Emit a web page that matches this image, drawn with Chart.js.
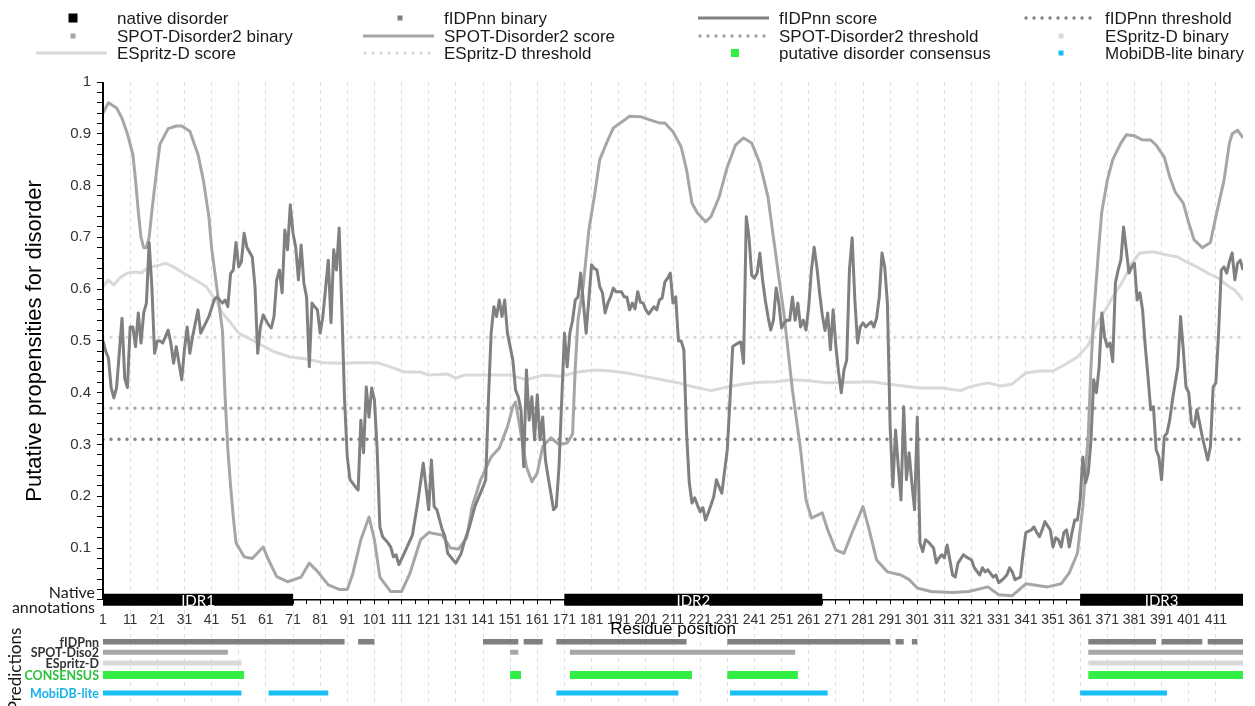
<!DOCTYPE html>
<html>
<head>
<meta charset="utf-8">
<title>Putative disorder profile</title>
<script src="https://cdn.jsdelivr.net/npm/chart.js@4.4.1/dist/chart.umd.min.js"></script>
<style>
  html, body { margin: 0; padding: 0; background: #fff; }
  #wrap { width: 1255px; height: 706px; }
</style>
</head>
<body>
<div id="wrap"><canvas id="disorderChart" width="1255" height="706"></canvas></div>
<script>
// residue / score pairs
const fidpnnScore = [
  [1,.50],[2,.48],[3,.467],[4,.41],[5,.39],[6,.41],[8,.544],[9,.428],[10,.41],[11,.527],[12,.527],[13,.489],[14,.554],[15,.496],[16,.554],[17,.573],[18,.69],[19,.605],[20,.476],[21,.50],[22,.50],[23,.496],[25,.521],[26,.496],[27,.457],[28,.489],[30,.425],[31,.483],[32,.527],[33,.476],[34,.508],[36,.56],[37,.515],[40,.547],[42,.58],[43,.585],[45,.573],[46,.579],[47,.566],[48,.63],[49,.637],[50,.69],[51,.643],[52,.653],[53,.708],[54,.681],[56,.662],[57,.605],[58,.476],[59,.527],[60,.55],[62,.531],[63,.525],[64,.547],[65,.618],[66,.637],[67,.593],[68,.714],[69,.676],[70,.763],[71,.708],[72,.681],[73,.618],[74,.685],[75,.612],[76,.585],[77,.45],[78,.573],[79,.566],[80,.56],[81,.515],[82,.547],[84,.656],[85,.535],[86,.676],[87,.637],[88,.718],[89,.56],[90,.386],[91,.276],[92,.232],[94,.218],[95,.212],[96,.347],[97,.284],[98,.411],[99,.353],[100,.409],
  [101,.386],[102,.29],[103,.141],[104,.122],[106,.11],[107,.102],[108,.083],[109,.087],[110,.068],[112,.09],[115,.125],[117,.19],[119,.264],[120,.218],[121,.174],[122,.27],[123,.18],[124,.174],[126,.135],[127,.122],[128,.09],[130,.077],[131,.071],[133,.09],[134,.11],[136,.141],[138,.18],[139,.193],[141,.218],[142,.232],[143,.386],[144,.515],[145,.566],[146,.547],[147,.579],[148,.547],[149,.579],[150,.515],[151,.489],[152,.463],[153,.405],[154,.392],[155,.367],[156,.257],[157,.444],[158,.347],[159,.392],[160,.309],[161,.396],[162,.309],[163,.353],[164,.27],[165,.237],[166,.206],[167,.174],[168,.18],[169,.257],[170,.386],[171,.515],[172,.45],[173,.515],[174,.54],[175,.579],[176,.585],[177,.631],[178,.573],[179,.515],[181,.647],[182,.64],[183,.637],[184,.605],[185,.593],[186,.554],[187,.573],[188,.585],[189,.602],[190,.595],[192,.595],[193,.585],[194,.585],[195,.56],[196,.573],[197,.562],[198,.595],[199,.575],[200,.573],
  [201,.56],[202,.552],[204,.566],[205,.56],[206,.579],[207,.583],[208,.614],[209,.621],[210,.631],[211,.573],[212,.585],[213,.50],[214,.50],[215,.483],[216,.322],[217,.226],[218,.187],[219,.197],[220,.183],[221,.17],[222,.178],[223,.154],[224,.168],[225,.183],[226,.199],[227,.232],[228,.218],[229,.206],[231,.29],[232,.386],[233,.489],[235,.496],[236,.498],[237,.457],[238,.74],[239,.70],[240,.627],[241,.621],[242,.631],[243,.67],[244,.618],[245,.579],[246,.547],[247,.521],[248,.54],[249,.602],[250,.573],[251,.525],[252,.535],[253,.54],[254,.54],[255,.585],[256,.54],[257,.573],[258,.527],[259,.54],[260,.521],[261,.566],[262,.637],[263,.681],[264,.643],[265,.593],[266,.55],[267,.52],[268,.554],[269,.483],[270,.56],[271,.49],[272,.44],[273,.40],[274,.444],[275,.463],[276,.637],[277,.699],[278,.579],[279,.496],[280,.527],[281,.535],[282,.527],[284,.537],[285,.527],[286,.544],[287,.585],[288,.67],[289,.643],[290,.573],[291,.334],[292,.218],[293,.328],[294,.257],[295,.193],[296,.373],[297,.232],[298,.284],[299,.226],[300,.174],
  [301,.353],[302,.11],[303,.093],[304,.116],[305,.112],[307,.10],[308,.071],[309,.081],[310,.087],[311,.081],[312,.106],[313,.077],[314,.048],[315,.044],[316,.071],[318,.087],[319,.083],[321,.077],[322,.062],[324,.048],[325,.062],[326,.054],[327,.058],[329,.044],[330,.048],[331,.033],[333,.042],[334,.048],[335,.062],[336,.054],[337,.039],[339,.044],[340,.09],[341,.13],[343,.135],[344,.141],[345,.13],[346,.122],[347,.135],[348,.151],[350,.135],[351,.102],[352,.12],[353,.116],[354,.102],[355,.13],[356,.135],[357,.102],[358,.13],[359,.154],[360,.154],[361,.193],[362,.276],[363,.226],[364,.245],[365,.309],[366,.425],[367,.40],[368,.45],[369,.554],[370,.508],[371,.489],[372,.496],[373,.46],[374,.612],[375,.637],[376,.656],[377,.72],[378,.676],[379,.631],[380,.643],[381,.65],[382,.579],[383,.593],[384,.56],[385,.489],[386,.431],[387,.367],[388,.373],[389,.29],[390,.276],[391,.232],[392,.315],[393,.322],[394,.347],[395,.386],[397,.45],[398,.547],[399,.483],[400,.411],
  [401,.40],[402,.342],[403,.334],[404,.367],[405,.342],[406,.315],[408,.27],[409,.296],[410,.411],[411,.419],[412,.515],[413,.637],[414,.643],[415,.631],[416,.653],[417,.67],[418,.618],[419,.65],[420,.656],[421,.637]
];

const spotScore = [
  [1,.94],[3,.96],[6,.95],[8,.93],[10,.90],[12,.86],[13,.81],[14,.75],[15,.70],[16,.68],[17,.68],[18,.70],[19,.75],[21,.84],[22,.88],[25,.91],[28,.915],[30,.915],[33,.905],[36,.86],[38,.81],[40,.74],[41,.68],[43,.60],[45,.52],[46,.39],[47,.29],[48,.22],[49,.16],[50,.11],[53,.083],[56,.08],[60,.102],[62,.077],[65,.045],[69,.035],[74,.044],[77,.071],[80,.055],[84,.029],[88,.02],[91,.02],[93,.05],[96,.116],[99,.16],[101,.116],[103,.044],[107,.016],[111,.016],[114,.05],[118,.116],[121,.13],[126,.125],[129,.10],[132,.098],[135,.12],[137,.18],[140,.23],[144,.276],[147,.293],[150,.334],[152,.373],[153,.382],[155,.32],[157,.257],[159,.228],[161,.245],[163,.296],[166,.313],[169,.30],[172,.303],[174,.32],[175,.45],[176,.54],[178,.61],[180,.714],[182,.778],[184,.85],[187,.888],[189,.911],[193,.926],[195,.934],[199,.933],[203,.926],[206,.921],[208,.921],[211,.904],[214,.875],[216,.83],[218,.766],[220,.747],[223,.73],[225,.74],[228,.778],[231,.836],[234,.878],[237,.892],[240,.882],[243,.843],[246,.778],[248,.70],[250,.623],[252,.547],[255,.405],[258,.29],[260,.193],[262,.158],[266,.168],[268,.135],[271,.096],[274,.09],[277,.13],[281,.18],[283,.141],[286,.077],[290,.054],[295,.048],[298,.039],[301,.023],[306,.016],[314,.014],[320,.016],[327,.025],[331,.01],[336,.008],[341,.031],[349,.025],[354,.031],[357,.052],[360,.09],[362,.18],[364,.32],[365,.45],[366,.55],[367,.62],[368,.69],[369,.75],[371,.81],[373,.85],[376,.882],[378,.898],[381,.896],[384,.888],[387,.888],[389,.878],[392,.855],[394,.817],[396,.788],[399,.766],[401,.728],[403,.695],[406,.68],[409,.69],[411,.74],[414,.81],[416,.882],[417,.90],[419,.907],[421,.892]
];

const espritzScore = [
  [1,.605],[3,.618],[5,.608],[7,.621],[10,.631],[13,.633],[15,.631],[18,.643],[21,.645],[24,.65],[27,.643],[30,.633],[34,.621],[39,.605],[43,.575],[45,.554],[48,.535],[51,.515],[58,.496],[64,.479],[70,.469],[76,.465],[82,.458],[88,.457],[95,.458],[102,.458],[107,.45],[112,.44],[118,.44],[121,.434],[128,.436],[131,.428],[134,.434],[145,.434],[151,.434],[157,.425],[163,.434],[170,.432],[176,.44],[182,.444],[188,.442],[194,.438],[200,.432],[206,.426],[213,.419],[218,.412],[225,.404],[231,.411],[237,.417],[243,.42],[249,.421],[255,.425],[261,.423],[268,.419],[277,.42],[284,.421],[290,.417],[296,.413],[302,.409],[310,.409],[317,.404],[320,.411],[327,.419],[332,.413],[336,.417],[341,.438],[346,.442],[351,.442],[355,.453],[360,.469],[364,.492],[367,.531],[371,.566],[373,.585],[377,.618],[380,.65],[383,.67],[388,.672],[393,.666],[397,.662],[400,.653],[404,.643],[408,.631],[412,.621],[415,.608],[418,.598],[421,.579]
];

const fidpnnThreshold = 0.31;
const spotThreshold = 0.37;
const espritzThreshold = 0.507;

// disordered regions, [first residue, last residue]
const nativeRegions = [[1, 71], [171, 266], [361, 421]];
const nativeLabels = ['IDR1', 'IDR2', 'IDR3'];
const fidpnnRegions = [[1, 90], [95, 101], [141, 154], [156, 163], [168, 216], [231, 291], [293, 296], [299, 301], [364, 389], [391, 406], [408, 421]];
const spotRegions = [[1, 47], [151, 154], [173, 256], [364, 421]];
const espritzRegions = [[1, 52], [364, 421]];
const consensusRegions = [[1, 53], [151, 155], [173, 218], [231, 257], [364, 421]];
const mobidbRegions = [[1, 52], [62, 84], [168, 213], [232, 268], [361, 393]];

const proteinLength = 421;
const xTickLabels = [1, 11, 21, 31, 41, 51, 61, 71, 81, 91, 101, 111, 121, 131, 141, 151, 161, 171, 181, 191, 201, 211, 221, 231, 241, 251, 261, 271, 281, 291, 301, 311, 321, 331, 341, 351, 361, 371, 381, 391, 401, 411];
const yTickLabels = [0.1, 0.2, 0.3, 0.4, 0.5, 0.6, 0.7, 0.8, 0.9, 1];

// where each binary track sits below the axis (value units)
const trackLevel = { native: 0, fidpnn: -0.081, spot: -0.101, espritz: -0.122, consensus: -0.145, mobidb: -0.18 };

const GREY_DARK = '#808080';
const GREY_MID = '#a6a6a6';
const GREY_LIGHT = '#d9d9d9';
const GREEN = '#33ee44';
const BLUE = '#18bff5';

const toPoints = pairs => pairs.map(([r, v]) => ({ x: r, y: v }));
const regionPoints = (regions, level) => {
  const pts = [];
  regions.forEach(([a, b]) => {
    pts.push({ x: a, y: level }, { x: b, y: level }, { x: b, y: null });
  });
  return pts;
};
const flatLine = v => [{ x: 1, y: v }, { x: proteinLength, y: v }];

const scoreLine = (label, pairs, color, order) => ({
  label, data: toPoints(pairs), borderColor: color, borderWidth: 3,
  borderJoinStyle: 'round', order, legendMarker: 'line'
});
const thresholdLine = (label, value, color) => ({
  label, data: flatLine(value), borderColor: color, borderWidth: 3.5,
  borderDash: [0, 8], borderCapStyle: 'round', order: 6, legendMarker: 'dots'
});
const track = (label, regions, level, color, width, boxSize) => ({
  label, data: regionPoints(regions, level), borderColor: color, borderWidth: width,
  borderCapStyle: 'butt', order: 0, legendMarker: 'box', legendSize: boxSize
});

const datasets = [
  track('native disorder', nativeRegions, trackLevel.native, '#000000', 12, 9),
  track('fIDPnn binary', fidpnnRegions, trackLevel.fidpnn, GREY_DARK, 5.5, 5),
  scoreLine('fIDPnn score', fidpnnScore, GREY_DARK, 1),
  thresholdLine('fIDPnn threshold', fidpnnThreshold, GREY_DARK),
  track('SPOT-Disorder2 binary', spotRegions, trackLevel.spot, GREY_MID, 5, 5),
  scoreLine('SPOT-Disorder2 score', spotScore, GREY_MID, 2),
  thresholdLine('SPOT-Disorder2 threshold', spotThreshold, GREY_MID),
  track('ESpritz-D binary', espritzRegions, trackLevel.espritz, GREY_LIGHT, 5, 5),
  scoreLine('ESpritz-D score', espritzScore, GREY_LIGHT, 3),
  thresholdLine('ESpritz-D threshold', espritzThreshold, GREY_LIGHT),
  track('putative disorder consensus', consensusRegions, trackLevel.consensus, GREEN, 8, 8),
  track('MobiDB-lite binary', mobidbRegions, trackLevel.mobidb, BLUE, 5, 5)
];

const trackLabels = [
  { text: 'fIDPnn', level: trackLevel.fidpnn, color: '#333333' },
  { text: 'SPOT-Diso2', level: trackLevel.spot, color: '#333333' },
  { text: 'ESpritz-D', level: trackLevel.espritz, color: '#333333' },
  { text: 'CONSENSUS', level: trackLevel.consensus, color: '#2cc23d' },
  { text: 'MobiDB-lite', level: trackLevel.mobidb, color: '#17b2ea' }
];

const SANS = '"Liberation Sans", Arial, sans-serif';
const CALIBRI = 'Lato, "Open Sans", sans-serif';

// legend is drawn as a 4 column grid, like the original figure
const legendCols = [117, 444, 779, 1105];
const legendRows = [18, 36, 53];

function drawLegend(chart) {
  const ctx = chart.ctx;
  ctx.save();
  ctx.font = '17px ' + SANS;
  ctx.textBaseline = 'middle';
  ctx.textAlign = 'left';
  chart.data.datasets.forEach((ds, i) => {
    const tx = legendCols[i % 4];
    const ty = legendRows[Math.floor(i / 4)];
    ctx.fillStyle = ds.borderColor;
    ctx.strokeStyle = ds.borderColor;
    if (ds.legendMarker === 'box') {
      const s = ds.legendSize;
      ctx.fillRect(tx - 44 - s / 2, ty - s / 2, s, s);
    } else if (ds.legendMarker === 'line') {
      ctx.lineWidth = 3;
      ctx.beginPath();
      ctx.moveTo(tx - 81, ty);
      ctx.lineTo(tx - 10, ty);
      ctx.stroke();
    } else {
      for (let dx = tx - 79; dx <= tx - 12; dx += 8) {
        ctx.beginPath();
        ctx.arc(dx, ty, 1.7, 0, Math.PI * 2);
        ctx.fill();
      }
    }
    ctx.fillStyle = '#1a1a1a';
    ctx.fillText(ds.label, tx, ty + 1);
  });
  ctx.restore();
}

const figureText = {
  id: 'figureText',
  beforeDatasetsDraw(chart) {
    const { ctx, chartArea, scales: { y } } = chart;
    const y0 = y.getPixelForValue(0);
    ctx.save();
    ctx.strokeStyle = '#000';
    ctx.lineWidth = 1.5;
    ctx.beginPath();
    ctx.moveTo(chartArea.left, y0);
    ctx.lineTo(chartArea.right, y0);
    ctx.stroke();
    ctx.restore();
  },
  afterDatasetsDraw(chart) {
    const { ctx, chartArea, scales: { x, y } } = chart;
    ctx.save();
    // y axis line only over the 0..1 score range
    ctx.strokeStyle = '#000';
    ctx.lineWidth = 2;
    ctx.beginPath();
    ctx.moveTo(chartArea.left, y.getPixelForValue(1));
    ctx.lineTo(chartArea.left, y.getPixelForValue(0));
    ctx.stroke();

    // IDR names inside the native bars
    ctx.fillStyle = '#ffffff';
    ctx.font = '15px ' + CALIBRI;
    ctx.textAlign = 'center';
    ctx.textBaseline = 'middle';
    nativeRegions.forEach(([a, b], i) => {
      const cx = (x.getPixelForValue(a) + x.getPixelForValue(b)) / 2;
      ctx.fillText(nativeLabels[i], cx, y.getPixelForValue(trackLevel.native) + 1);
    });
    ctx.restore();
  },
  afterDraw(chart) {
    const { ctx, chartArea, scales: { y } } = chart;
    const y0 = y.getPixelForValue(0);
    drawLegend(chart);
    ctx.save();

    // y axis title
    ctx.fillStyle = '#000';
    ctx.font = '22px ' + SANS;
    ctx.textAlign = 'center';
    ctx.textBaseline = 'middle';
    ctx.translate(35, (y.getPixelForValue(1) + y0) / 2);
    ctx.rotate(-Math.PI / 2);
    ctx.fillText('Putative propensities for disorder', 0, 0);
    ctx.setTransform(1, 0, 0, 1, 0, 0);

    // x axis title
    ctx.font = '17px ' + SANS;
    ctx.fillText('Residue position', (chartArea.left + chartArea.right) / 2, y0 + 29);

    // native annotation caption
    ctx.font = '16px ' + CALIBRI;
    ctx.textAlign = 'right';
    ctx.fillStyle = '#1a1a1a';
    ctx.fillText('Native', chartArea.left - 8, y0 - 7);
    ctx.fillText('annotations', chartArea.left - 8, y0 + 8);

    // prediction track names
    ctx.font = 'bold 12.5px ' + CALIBRI;
    trackLabels.forEach(t => {
      ctx.fillStyle = t.color;
      ctx.fillText(t.text, chartArea.left - 4, y.getPixelForValue(t.level) + 1);
    });

    // rotated "Predictions"
    const mid = (y.getPixelForValue(trackLevel.fidpnn) + y.getPixelForValue(trackLevel.mobidb)) / 2;
    ctx.fillStyle = '#1a1a1a';
    ctx.font = '17px ' + CALIBRI;
    ctx.textAlign = 'center';
    ctx.translate(16, mid + 2);
    ctx.rotate(-Math.PI / 2);
    ctx.fillText('Predictions', 0, 0);
    ctx.restore();
  }
};

// minor ticks every 5 residues on x, every 0.02 on y
const xTicks = [];
for (let r = 1; r < proteinLength; r += 5) xTicks.push(r);
const yTicks = [0];
for (let k = 1; k <= 50; k++) yTicks.push(k / 50);

const ctx = document.getElementById('disorderChart').getContext('2d');
const chart = new Chart(ctx, {
  type: 'line',
  data: { datasets },
  options: {
    responsive: false,
    animation: false,
    devicePixelRatio: 1,
    layout: { padding: { top: 82, right: 12, bottom: 0, left: 0 } },
    elements: { point: { radius: 0 }, line: { tension: 0, fill: false } },
    spanGaps: false,
    plugins: { legend: { display: false }, tooltip: { enabled: false } },
    scales: {
      x: {
        type: 'linear',
        position: { y: 0 },
        min: 1,
        max: proteinLength,
        afterBuildTicks: s => { s.ticks = xTicks.map(v => ({ value: v })); },
        afterFit: s => { s.height = 0; s.paddingLeft = 0; s.paddingRight = 0; },
        ticks: {
          autoSkip: false,
          maxRotation: 0,
          minRotation: 0,
          padding: 8,
          color: '#333',
          font: { family: SANS, size: 14 },
          callback: v => (xTickLabels.includes(v) ? String(v) : '')
        },
        grid: {
          color: c => (c.tick && c.tick.value > 1 && xTickLabels.includes(c.tick.value) ? 'rgba(0,0,0,0.13)' : 'rgba(0,0,0,0)'),
          tickColor: '#000',
          tickLength: 4,
          lineWidth: 1
        },
        border: { display: false, dash: [4, 4] }
      },
      y: {
        type: 'linear',
        min: -0.205,
        max: 1,
        afterBuildTicks: s => { s.ticks = yTicks.map(v => ({ value: v })); },
        afterFit: s => { s.width = 103; s.paddingTop = 0; s.paddingBottom = 0; },
        ticks: {
          autoSkip: false,
          padding: 6,
          color: '#333',
          font: { family: SANS, size: 15 },
          callback: v => {
            const lab = yTickLabels.find(t => Math.abs(t - v) < 1e-6);
            return lab === undefined ? '' : String(lab);
          }
        },
        grid: { drawOnChartArea: false, tickColor: '#000', tickLength: 6, lineWidth: 1 },
        border: { display: false }
      }
    }
  },
  plugins: [figureText]
});
</script>
</body>
</html>
